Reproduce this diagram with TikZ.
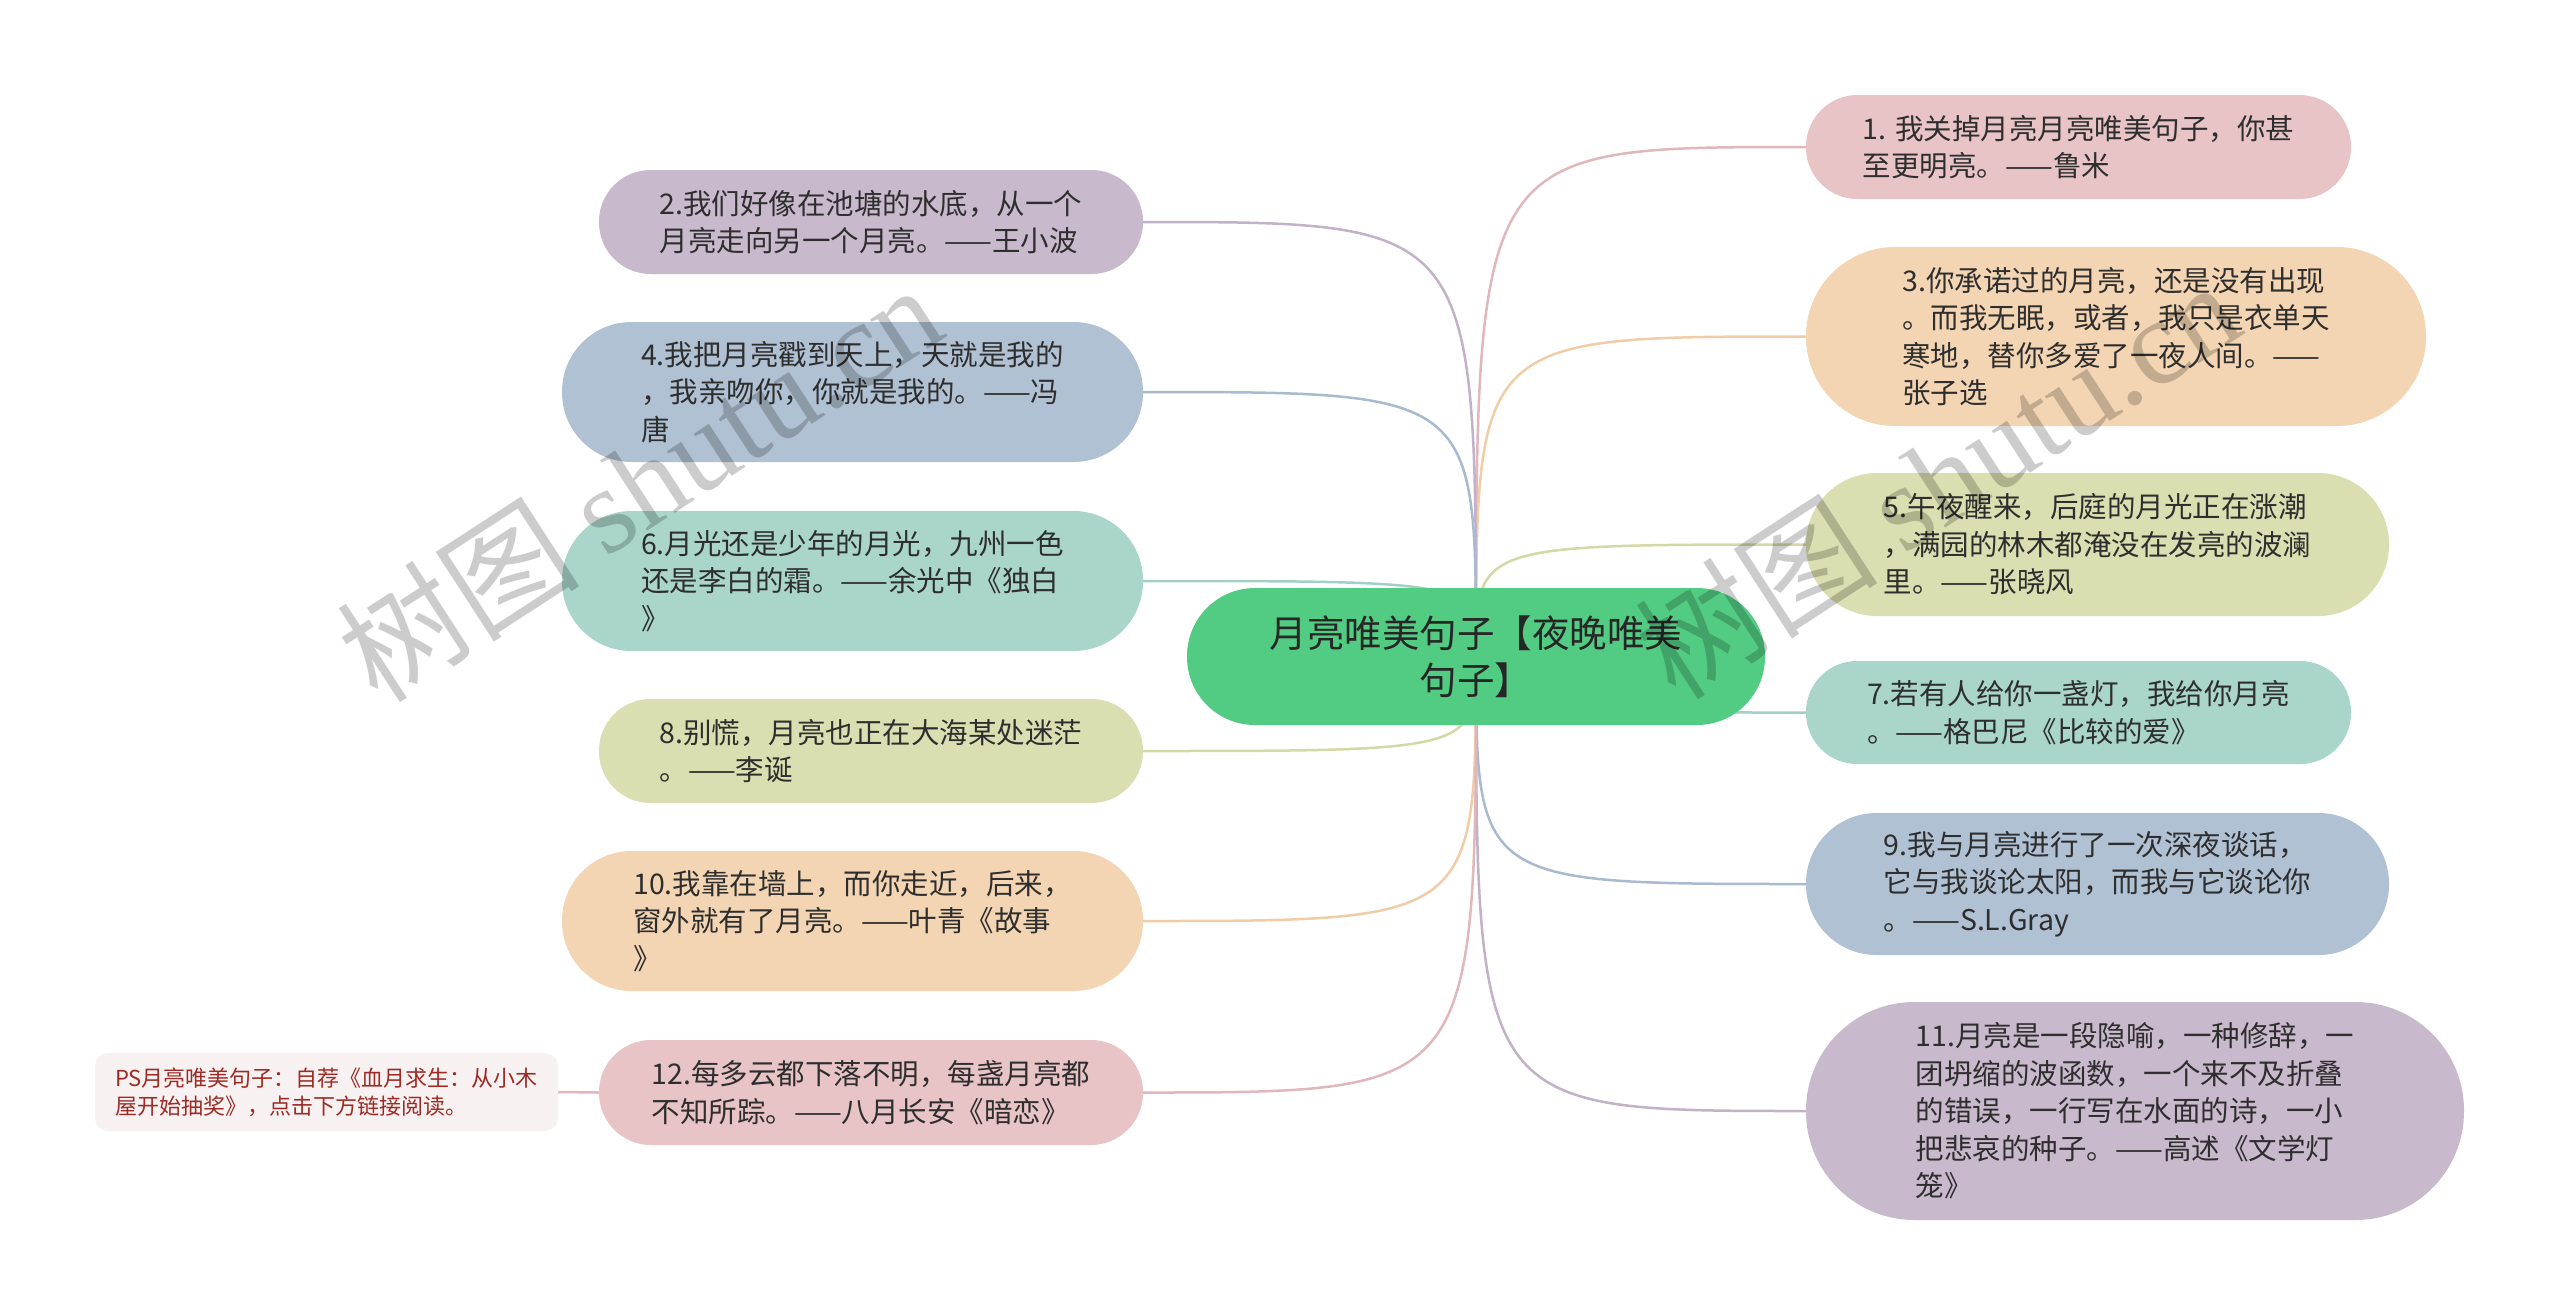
\documentclass[tikz,border=0pt]{standalone}
\usepackage{fontspec}
\setmainfont{Noto Sans CJK SC}
\newfontfamily\wmserif{Liberation Serif}
\newfontfamily\wmcjk{Noto Sans CJK SC}
\definecolor{cpink}{HTML}{E8C4C6}
\definecolor{cpeach}{HTML}{F3D5B3}
\definecolor{colive}{HTML}{DBDEB0}
\definecolor{cteal}{HTML}{A9D5CB}
\definecolor{cblue}{HTML}{B0C1D3}
\definecolor{cmauve}{HTML}{C9B9CD}
\definecolor{lpink}{HTML}{E0B7BB}
\definecolor{lpeach}{HTML}{F0CDA6}
\definecolor{lolive}{HTML}{D4D8A6}
\definecolor{lteal}{HTML}{A2D0C6}
\definecolor{lblue}{HTML}{A8BACF}
\definecolor{lmauve}{HTML}{C3B1C7}
\definecolor{cgreen}{HTML}{52CC82}
\definecolor{txt}{HTML}{2E2E2E}
\definecolor{pstxt}{HTML}{9C2B25}
\definecolor{psfill}{HTML}{F8F1F1}
\pgfdeclarelayer{back}
\pgfdeclarelayer{lines}
\pgfdeclarelayer{front}
\pgfsetlayers{back,lines,main,front}
\tikzset{
  leaf/.style n args={4}{fill=#1, minimum width=#2, minimum height=#3, rounded corners=#4,
    align=left, inner sep=0pt, text=txt, font=\fontsize{28.5}{37.5}\selectfont},
  conn/.style={draw=#1, line width=2.5pt},
  wm/.style={text=black, text opacity=0.2, inner sep=0pt, anchor=base west, rotate=33,
    font=\fontsize{122}{130}\selectfont},
}
\begin{document}
\begin{tikzpicture}[x=1pt,y=-1pt]
\begin{pgfonlayer}{back}
\fill[white] (0,0) rectangle (2560,1315);
\end{pgfonlayer}
\useasboundingbox (0,0) rectangle (2560,1315);

% central topic
\node[fill=cgreen, minimum width=578, minimum height=137, rounded corners=68, inner sep=0pt,
  align=center, text=black!85, font=\fontsize{37.5}{47}\selectfont] (c) at (1476,656.5)
  {月亮唯美句子【夜晚唯美\\句子】};

% right branches
\node[leaf={cpink}{545}{104}{51.5}] (n1) at (2078.5,147) {1. 我关掉月亮月亮唯美句子，你甚\\至更明亮。——鲁米};
\node[leaf={cpeach}{620}{179}{89}] (n3) at (2116,336.5) {3.你承诺过的月亮，还是没有出现\\。而我无眠，或者，我只是衣单天\\寒地，替你多爱了一夜人间。——\\张子选};
\node[leaf={colive}{583}{143}{71}] (n5) at (2097.5,544.5) {5.午夜醒来，后庭的月光正在涨潮\\，满园的林木都淹没在发亮的波澜\\里。——张晓风};
\node[leaf={cteal}{545}{103}{51}] (n7) at (2078.5,712.5) {7.若有人给你一盏灯，我给你月亮\\。——格巴尼《比较的爱》};
\node[leaf={cblue}{583}{142}{70.5}] (n9) at (2097.5,884) {9.我与月亮进行了一次深夜谈话，\\它与我谈论太阳，而我与它谈论你\\。——S.L.Gray};
\node[leaf={cmauve}{658}{218}{108.5}] (n11) at (2135,1111) {11.月亮是一段隐喻，一种修辞，一\\团坍缩的波函数，一个来不及折叠\\的错误，一行写在水面的诗，一小\\把悲哀的种子。——高述《文学灯\\笼》};

% left branches
\node[leaf={cmauve}{544}{104}{51.5}] (n2) at (871,222) {2.我们好像在池塘的水底，从一个\\月亮走向另一个月亮。——王小波};
\node[leaf={cblue}{581}{140}{69.5}] (n4) at (852.5,392) {4.我把月亮戳到天上，天就是我的\\，我亲吻你，你就是我的。——冯\\唐};
\node[leaf={cteal}{581}{140}{69.5}] (n6) at (852.5,581) {6.月光还是少年的月光，九州一色\\还是李白的霜。——余光中《独白\\》};
\node[leaf={colive}{544}{104}{51.5}] (n8) at (871,751) {8.别慌，月亮也正在大海某处迷茫\\。——李诞};
\node[leaf={cpeach}{581}{140}{69.5}] (n10) at (852.5,921) {10.我靠在墙上，而你走近，后来，\\窗外就有了月亮。——叶青《故事\\》};
\node[leaf={cpink}{544}{105}{52}] (n12) at (871,1092.5) {12.每多云都下落不明，每盏月亮都\\不知所踪。——八月长安《暗恋》};

% note
\node[fill=psfill, minimum width=463, minimum height=78, rounded corners=13, inner sep=0pt,
  align=left, text=pstxt, font=\fontsize{22}{28}\selectfont] (ps) at (326.5,1092)
  {PS月亮唯美句子：自荐《血月求生：从小木\\屋开始抽奖》，点击下方链接阅读。};

% connectors
\begin{pgfonlayer}{lines}
\foreach \n/\k in {n1/lpink,n3/lpeach,n5/lolive,n7/lteal,n9/lblue,n11/lmauve}
  \draw[conn=\k] (c.center) .. controls (c.center |- \n.west) .. (\n.west);
\foreach \n/\k in {n2/lmauve,n4/lblue,n6/lteal,n8/lolive,n10/lpeach,n12/lpink}
  \draw[conn=\k] (c.center) .. controls (c.center |- \n.east) .. (\n.east);
\draw[conn=lpink] (n12.west) -- (ps.east);
\end{pgfonlayer}

% watermarks
\begin{pgfonlayer}{front}
\node[wm] (wm1) at (378,706) {{\wmcjk 树图} {\wmserif shutu.cn}};
\node[wm] (wm2) at (1676,703) {{\wmcjk 树图} {\wmserif shutu.cn}};
\end{pgfonlayer}
\end{tikzpicture}
\end{document}
